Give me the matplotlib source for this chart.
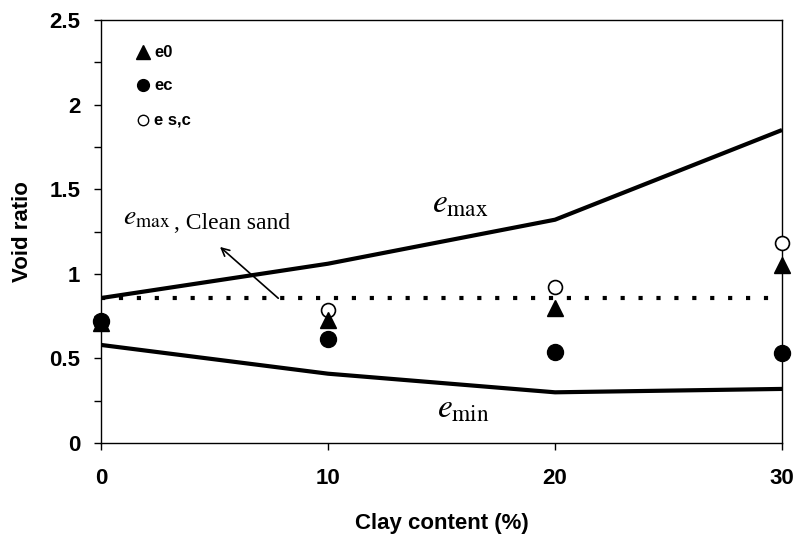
import matplotlib.pyplot as plt
import numpy as np
from matplotlib.ticker import MultipleLocator, FormatStrFormatter

plt.rcParams['font.family'] = ['Liberation Sans', 'DejaVu Sans']
plt.rcParams['mathtext.fontset'] = 'stix'

clay = [0, 10, 20, 30]
e_max = [0.857, 1.06, 1.32, 1.85]
e_min = [0.58, 0.41, 0.30, 0.32]
e_max_clean = 0.857
e0 = [0.71, 0.727, 0.80, 1.05]
ec = [0.72, 0.615, 0.54, 0.53]
esc = [0.71, 0.786, 0.92, 1.18]

fig = plt.figure(figsize=(7.98, 5.41), dpi=100)
ax = fig.add_axes([0.1266, 0.181, 0.8534, 0.782])

ax.plot(clay, e_max, color='black', lw=3, solid_capstyle='butt', zorder=2)
ax.plot(clay, e_min, color='black', lw=3, solid_capstyle='butt', zorder=2)
ax.plot([0, 29.5], [e_max_clean, e_max_clean], color='black', lw=3,
        linestyle=(0, (1, 3.3)), zorder=2)

ax.plot(clay, esc, 'o', ms=10, mfc='white', mec='black', mew=1.2, ls='none',
        clip_on=False, zorder=3)
ax.plot(clay, e0, '^', ms=11.5, color='black', ls='none', clip_on=False, zorder=4)
ax.plot(clay, ec, 'o', ms=11.5, color='black', ls='none', clip_on=False, zorder=4)

# legend drawn by hand
ax.plot([1.85], [2.31], '^', ms=10, color='black')
ax.text(2.35, 2.31, 'e0', fontsize=12, fontweight='bold', va='center')
ax.plot([1.85], [2.115], 'o', ms=8.5, color='black')
ax.text(2.35, 2.115, 'ec', fontsize=12, fontweight='bold', va='center')
ax.plot([1.85], [1.91], 'o', ms=7.5, mfc='white', mec='black', mew=1)
ax.text(2.35, 1.91, 'e s,c', fontsize=12, fontweight='bold', va='center')

serif = ['Liberation Serif', 'DejaVu Serif']
ax.text(0.97, 1.29, r'$e_{\mathrm{max}}$', fontsize=20, va='baseline')
ax.text(3.2, 1.265, ', Clean sand', fontsize=17, family=serif, va='baseline')
ax.annotate('', xy=(5.15, 1.17), xytext=(7.9, 0.845),
            arrowprops=dict(arrowstyle='->', color='black', lw=1.2,
                            mutation_scale=14))
ax.text(14.58, 1.365, r'$e_{\mathrm{max}}$', fontsize=24, va='baseline')
ax.text(14.8, 0.154, r'$e_{\mathrm{min}}$', fontsize=24, va='baseline')

ax.set_xlim(0, 30)
ax.set_ylim(0, 2.5)
ax.set_xticks(clay)
ax.yaxis.set_major_locator(MultipleLocator(0.5))
ax.yaxis.set_minor_locator(MultipleLocator(0.25))
ax.yaxis.set_major_formatter(FormatStrFormatter('%g'))
ax.tick_params(axis='both', which='both', direction='out', length=5, width=1,
               labelsize=16)
ax.tick_params(axis='x', pad=13)
ax.tick_params(axis='y', pad=10)
for lab in ax.get_xticklabels() + ax.get_yticklabels():
    lab.set_fontweight('bold')
for sp in ax.spines.values():
    sp.set_linewidth(1)

ax.set_xlabel('Clay content (%)', fontsize=16, fontweight='bold', labelpad=17)
ax.set_ylabel('Void ratio', fontsize=16, fontweight='bold', labelpad=12)

fig.savefig('out.png', dpi=100)
